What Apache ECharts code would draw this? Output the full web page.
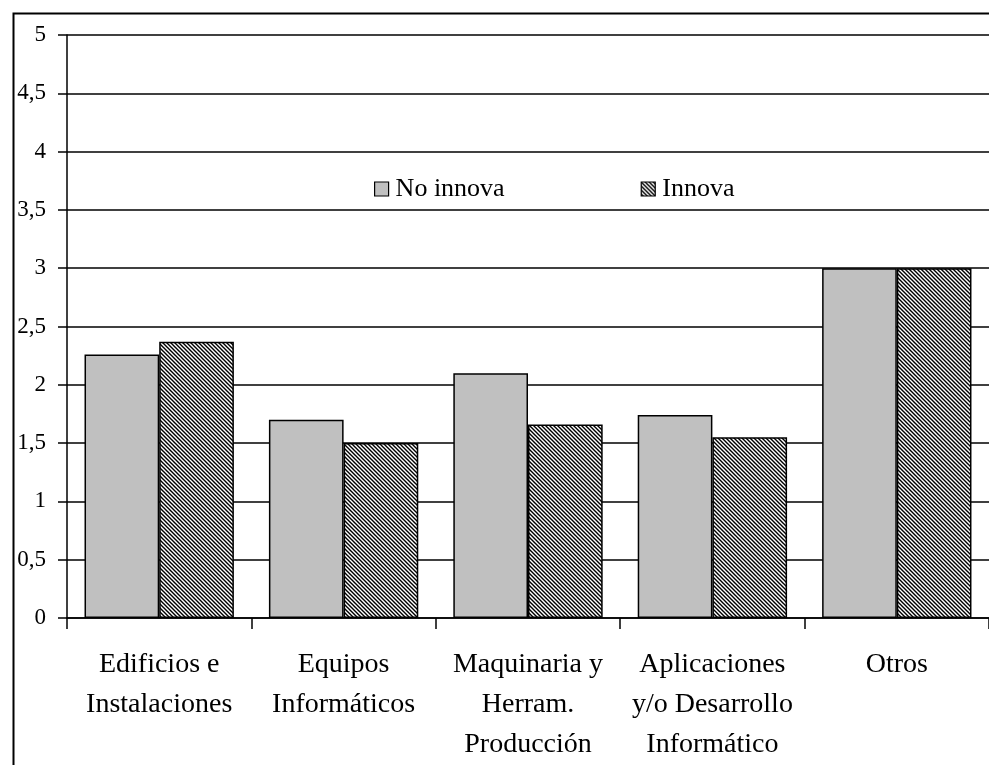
<!DOCTYPE html>
<html>
<head>
<meta charset="utf-8">
<script src="https://cdn.jsdelivr.net/npm/echarts@6/dist/echarts.min.js"></script>
<style>
  html, body { margin: 0; padding: 0; background: #fff; }
  #chart { width: 989px; height: 765px; }
</style>
</head>
<body>
<div id="chart"></div>
<script>
// categorias del eje x
const categories = [
  'Edificios e\nInstalaciones',
  'Equipos\nInformáticos',
  'Maquinaria y\nHerram.\nProducción',
  'Aplicaciones\ny/o Desarrollo\nInformático',
  'Otros'
];
const noInnova = [2.26, 1.70, 2.10, 1.74, 3.0];
const innova = [2.37, 1.50, 1.66, 1.55, 3.0];
const seriesNames = ['No innova', 'Innova'];

const FONT = '"Liberation Serif", "Times New Roman", serif';

// trama diagonal para "Innova"
function makeHatch() {
  const c = document.createElement('canvas');
  c.width = 4; c.height = 4;
  const ctx = c.getContext('2d');
  ctx.fillStyle = '#fff';
  ctx.fillRect(0, 0, 4, 4);
  ctx.strokeStyle = '#000';
  ctx.lineWidth = 1.4;
  ctx.beginPath();
  ctx.moveTo(-1, -1); ctx.lineTo(5, 5);
  ctx.moveTo(-3, 1); ctx.lineTo(1, 5);
  ctx.moveTo(3, -1); ctx.lineTo(5, 1);
  ctx.stroke();
  return c;
}

const chart = echarts.init(document.getElementById('chart'), null, { renderer: 'canvas' });

chart.setOption({
  backgroundColor: '#fff',
  animation: false,
  graphic: [{
    type: 'rect',
    left: 11, top: 11,
    shape: { width: 1000, height: 800 },
    style: { fill: 'none', stroke: '#000', lineWidth: 2 },
    silent: true
  }],
  legend: {
    data: seriesNames,
    left: 369,
    top: 171,
    itemWidth: 14,
    itemHeight: 14,
    itemGap: 136,
    icon: 'rect',
    itemStyle: { borderColor: '#000', borderWidth: 1.2 },
    textStyle: { fontFamily: FONT, fontSize: 26, color: '#000', padding: [0, 0, 0, 2] }
  },
  grid: { left: 67, top: 35, width: 930, height: 584, containLabel: false },
  xAxis: {
    type: 'category',
    data: categories,
    axisLine: { lineStyle: { color: '#000', width: 1.5 } },
    axisTick: { show: true, length: 11, lineStyle: { color: '#000', width: 1.5 } },
    axisLabel: {
      interval: 0,
      margin: 27,
      fontFamily: FONT,
      fontSize: 28,
      lineHeight: 40,
      color: '#000'
    }
  },
  yAxis: {
    type: 'value',
    min: 0,
    max: 5,
    interval: 0.5,
    axisLine: { show: true, lineStyle: { color: '#000', width: 1.5 } },
    axisTick: { show: true, length: 9, lineStyle: { color: '#000', width: 1.5 } },
    splitLine: { lineStyle: { color: '#000', width: 1.5 } },
    axisLabel: {
      margin: 21,
      fontFamily: FONT,
      fontSize: 23,
      color: '#000',
      formatter: v => String(v).replace('.', ',')
    }
  },
  series: [
    {
      name: seriesNames[0],
      type: 'bar',
      data: noInnova,
      barGap: '0%',
      barCategoryGap: '19%',
      itemStyle: { color: '#c0c0c0', borderColor: '#000', borderWidth: 1.5 }
    },
    {
      name: seriesNames[1],
      type: 'bar',
      data: innova,
      itemStyle: {
        color: { image: makeHatch(), repeat: 'repeat' },
        borderColor: '#000',
        borderWidth: 1.5
      }
    }
  ]
});
</script>
</body>
</html>
